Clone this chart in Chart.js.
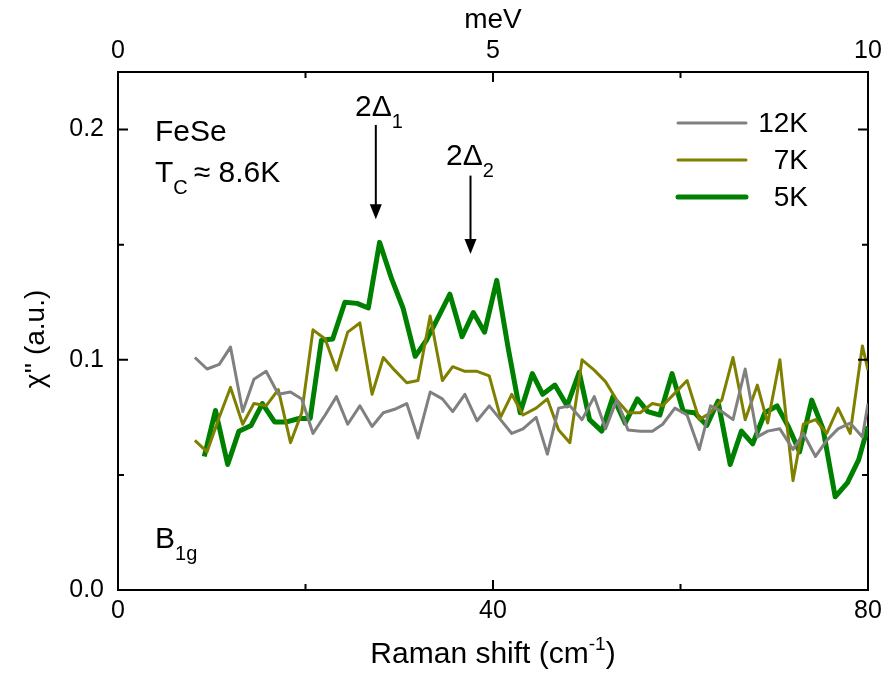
<!DOCTYPE html>
<html lang="en">
<head>
    <meta charset="UTF-8">
    <title>FeSe B1g Raman</title>
    <script src="https://cdn.jsdelivr.net/npm/chart.js@4.4.0/dist/chart.umd.min.js"></script>
    <style>
        html, body { margin: 0; padding: 0; background: #fff; }
        .chart-container { width: 888px; height: 674px; }
    </style>
</head>
<body>
    <div class="chart-container">
        <canvas id="ramanChart"></canvas>
    </div>

    <script>
        // Raman shift (cm-1) for 12K and 7K spectra
        const shift = [8.2, 9.5, 10.8, 12.0, 13.3, 14.5, 15.8, 17.1, 18.4, 19.6,
            20.8, 22.1, 23.3, 24.5, 25.8, 27.1, 28.3, 29.5, 30.8, 32.0,
            33.3, 34.6, 35.7, 37.0, 38.3, 39.6, 40.8, 42.0, 43.2, 44.6,
            45.8, 47.0, 48.2, 49.5, 50.8, 52.0, 53.2, 54.4, 55.7, 57.0,
            58.1, 59.4, 60.7, 62.0, 63.2, 64.4, 65.6, 66.9, 68.2, 69.3,
            70.6, 72.0, 73.1, 74.4, 75.6, 76.8, 78.1, 79.4, 80.0];
        const chi12K = [0.101, 0.096, 0.098, 0.1055, 0.0775, 0.0915, 0.095, 0.085, 0.086, 0.083,
            0.068, 0.076, 0.084, 0.072, 0.080, 0.071, 0.077, 0.0785, 0.081, 0.066,
            0.086, 0.083, 0.0775, 0.085, 0.0735, 0.080, 0.074, 0.068, 0.070, 0.075,
            0.059, 0.079, 0.080, 0.074, 0.084, 0.070, 0.0825, 0.0695, 0.069, 0.069,
            0.072, 0.079, 0.076, 0.061, 0.080, 0.0775, 0.074, 0.096, 0.0665, 0.069,
            0.070, 0.061, 0.068, 0.058, 0.065, 0.070, 0.0725, 0.0665, 0.081];
        const chi7K = [0.065, 0.060, 0.075, 0.088, 0.072, 0.081, 0.080, 0.087, 0.064, 0.077,
            0.113, 0.109, 0.0955, 0.112, 0.116, 0.085, 0.101, 0.0955, 0.090, 0.091,
            0.119, 0.091, 0.097, 0.095, 0.095, 0.093, 0.075, 0.085, 0.076, 0.079,
            0.083, 0.0695, 0.064, 0.100, 0.0955, 0.0905, 0.0825, 0.077, 0.077, 0.081,
            0.080, 0.0855, 0.091, 0.074, 0.077, 0.0825, 0.101, 0.074, 0.089, 0.0725,
            0.100, 0.0475, 0.072, 0.074, 0.068, 0.079, 0.068, 0.106, 0.0955];

        // 5K spectrum has its own grid
        const shift5K = [9.2, 10.4, 11.7, 12.9, 14.2, 15.4, 16.7, 18.0, 19.3, 20.5,
            21.7, 22.9, 24.2, 25.5, 26.7, 27.9, 29.2, 30.4, 31.7, 32.9,
            34.1, 35.4, 36.7, 37.9, 39.1, 40.4, 41.6, 42.9, 44.2, 45.3,
            46.6, 47.9, 49.2, 50.3, 51.6, 52.8, 54.1, 55.4, 56.5, 57.8,
            59.1, 60.3, 61.5, 62.8, 64.0, 65.3, 66.5, 67.7, 69.0, 70.3,
            71.5, 72.7, 74.0, 75.2, 76.5, 77.8, 79.0, 80.0];
        const chi5K = [0.058, 0.078, 0.0545, 0.069, 0.0715, 0.081, 0.073, 0.073, 0.0745, 0.0745,
            0.1085, 0.109, 0.125, 0.1245, 0.1225, 0.151, 0.135, 0.1225, 0.1015, 0.1085,
            0.118, 0.1285, 0.110, 0.1205, 0.112, 0.1345, 0.1055, 0.077, 0.094, 0.085,
            0.089, 0.080, 0.0945, 0.074, 0.069, 0.084, 0.0725, 0.083, 0.0775, 0.076,
            0.094, 0.0775, 0.077, 0.0715, 0.082, 0.0545, 0.069, 0.0635, 0.077, 0.080,
            0.071, 0.060, 0.0825, 0.070, 0.0405, 0.0465, 0.0565, 0.071];

        const labels = ['12K', '7K', '5K'];
        const colors = ['#808080', '#808000', '#008000'];
        const widths = [3, 3, 5];

        // arrows: [x (cm-1), yStart, yTip]
        const arrows = [[27.5, 0.202, 0.161], [37.6, 0.180, 0.146]];

        const FONT = 'Liberation Sans, Arial, sans-serif';

        function toPoints(xs, ys) {
            return ys.map((y, i) => ({ x: xs[i], y: y }));
        }

        // draw "main" + subscript/superscript pieces
        function richText(ctx, x, y, parts) {
            let cx = x;
            parts.forEach(p => {
                ctx.font = p.size + 'px ' + FONT;
                ctx.fillText(p.t, cx, y + (p.dy || 0));
                cx += ctx.measureText(p.t).width + (p.gap || 0);
            });
            return cx;
        }

        const decorPlugin = {
            id: 'decor',
            afterDraw(chart) {
                const ctx = chart.ctx;
                const xs = chart.scales.x, ys = chart.scales.y, xt = chart.scales.xTop;
                const area = chart.chartArea;
                ctx.save();
                ctx.strokeStyle = '#000';
                ctx.fillStyle = '#000';
                ctx.lineWidth = 2;

                // inward ticks
                ctx.beginPath();
                [[0, 10], [20, 6], [40, 10], [60, 6], [80, 10]].forEach(([v, len]) => {
                    const px = xs.getPixelForValue(v);
                    ctx.moveTo(px, area.bottom); ctx.lineTo(px, area.bottom - len);
                });
                [[0, 10], [2.5, 6], [5, 10], [7.5, 6], [10, 10]].forEach(([v, len]) => {
                    const px = xt.getPixelForValue(v);
                    ctx.moveTo(px, area.top); ctx.lineTo(px, area.top + len);
                });
                [[0, 10], [0.05, 6], [0.1, 10], [0.15, 6], [0.2, 10]].forEach(([v, len]) => {
                    const py = ys.getPixelForValue(v);
                    ctx.moveTo(area.left, py); ctx.lineTo(area.left + len, py);
                    ctx.moveTo(area.right, py); ctx.lineTo(area.right - len, py);
                });
                ctx.stroke();

                // arrows
                arrows.forEach(([x, y0, y1]) => {
                    const px = xs.getPixelForValue(x);
                    const p0 = ys.getPixelForValue(y0), p1 = ys.getPixelForValue(y1);
                    ctx.beginPath();
                    ctx.moveTo(px, p0); ctx.lineTo(px, p1 - 12);
                    ctx.stroke();
                    ctx.beginPath();
                    ctx.moveTo(px, p1);
                    ctx.lineTo(px - 6, p1 - 15);
                    ctx.lineTo(px + 6, p1 - 15);
                    ctx.closePath();
                    ctx.fill();
                });

                // legend
                ctx.textBaseline = 'middle';
                ctx.textAlign = 'right';
                ctx.font = '28px ' + FONT;
                labels.forEach((lab, i) => {
                    const y = 123 + i * 37;
                    ctx.beginPath();
                    ctx.lineCap = 'round';
                    ctx.strokeStyle = colors[i];
                    ctx.lineWidth = widths[i];
                    ctx.moveTo(678, y); ctx.lineTo(746, y);
                    ctx.stroke();
                    ctx.fillText(lab, 808, y + 1);
                });

                // annotations
                ctx.textAlign = 'left';
                ctx.textBaseline = 'alphabetic';
                ctx.font = '30px ' + FONT;
                ctx.fillText('FeSe', 155, 141);
                richText(ctx, 155, 182, [
                    { t: 'T', size: 30 },
                    { t: 'C', size: 20, dy: 12, gap: 6 },
                    { t: '\u2248 8.6K', size: 30 }
                ]);
                richText(ctx, 155, 548, [
                    { t: 'B', size: 30 },
                    { t: '1g', size: 20, dy: 12 }
                ]);
                richText(ctx, 355, 116, [
                    { t: '2\u0394', size: 30 },
                    { t: '1', size: 20, dy: 12 }
                ]);
                richText(ctx, 446, 165, [
                    { t: '2\u0394', size: 30 },
                    { t: '2', size: 20, dy: 12 }
                ]);

                // axis titles
                ctx.textAlign = 'center';
                ctx.font = '28px ' + FONT;
                ctx.fillText('meV', (area.left + area.right) / 2, 28);

                ctx.textAlign = 'left';
                const main = 'Raman shift (cm';
                ctx.font = '30px ' + FONT;
                const w1 = ctx.measureText(main).width;
                const w3 = ctx.measureText(')').width;
                ctx.font = '19px ' + FONT;
                const w2 = ctx.measureText('-1').width;
                const sx = (area.left + area.right) / 2 - (w1 + w2 + w3) / 2;
                richText(ctx, sx, 663, [
                    { t: main, size: 30 },
                    { t: '-1', size: 19, dy: -13 },
                    { t: ')', size: 30 }
                ]);

                ctx.translate(44, (area.top + area.bottom) / 2 + 8);
                ctx.rotate(-Math.PI / 2);
                ctx.textAlign = 'center';
                ctx.font = '28px ' + FONT;
                ctx.fillText('\u03C7\'\' (a.u.)', 0, 0);
                ctx.restore();
            }
        };

        const tickFont = { family: FONT, size: 25 };

        const ctx = document.getElementById('ramanChart').getContext('2d');
        new Chart(ctx, {
            type: 'line',
            data: {
                datasets: [
                    { label: labels[0], data: toPoints(shift, chi12K), borderColor: colors[0], borderWidth: widths[0] },
                    { label: labels[1], data: toPoints(shift, chi7K), borderColor: colors[1], borderWidth: widths[1] },
                    { label: labels[2], data: toPoints(shift5K, chi5K), borderColor: colors[2], borderWidth: widths[2] }
                ].map(d => Object.assign(d, { pointRadius: 0, tension: 0, fill: false, borderJoinStyle: 'round' }))
            },
            options: {
                responsive: true,
                maintainAspectRatio: false,
                animation: false,
                layout: { padding: 0 },
                plugins: { legend: { display: false }, tooltip: { enabled: false } },
                scales: {
                    x: {
                        type: 'linear', position: 'bottom', min: 0, max: 80,
                        ticks: { stepSize: 40, font: tickFont, color: '#000', padding: 6, maxRotation: 0 },
                        grid: { display: false, drawTicks: false },
                        border: { display: true, color: '#000', width: 2 },
                        afterFit: s => { s.height = 84; }
                    },
                    xTop: {
                        type: 'linear', position: 'top', min: 0, max: 10,
                        ticks: { stepSize: 5, font: tickFont, color: '#000', padding: 6, maxRotation: 0 },
                        grid: { display: false, drawTicks: false },
                        border: { display: true, color: '#000', width: 2 },
                        afterFit: s => { s.height = 72; }
                    },
                    y: {
                        type: 'linear', position: 'left', min: 0, max: 0.225,
                        ticks: { stepSize: 0.1, includeBounds: false, font: tickFont, color: '#000', padding: 14,
                                 callback: v => v.toFixed(1) },
                        grid: { display: false, drawTicks: false },
                        border: { display: true, color: '#000', width: 2 },
                        afterFit: s => { s.width = 118; }
                    },
                    yRight: {
                        type: 'linear', position: 'right', min: 0, max: 0.225,
                        ticks: { display: false },
                        grid: { display: false, drawTicks: false },
                        border: { display: true, color: '#000', width: 2 },
                        afterFit: s => { s.width = 20; }
                    }
                }
            },
            plugins: [decorPlugin]
        });
    </script>
</body>
</html>
